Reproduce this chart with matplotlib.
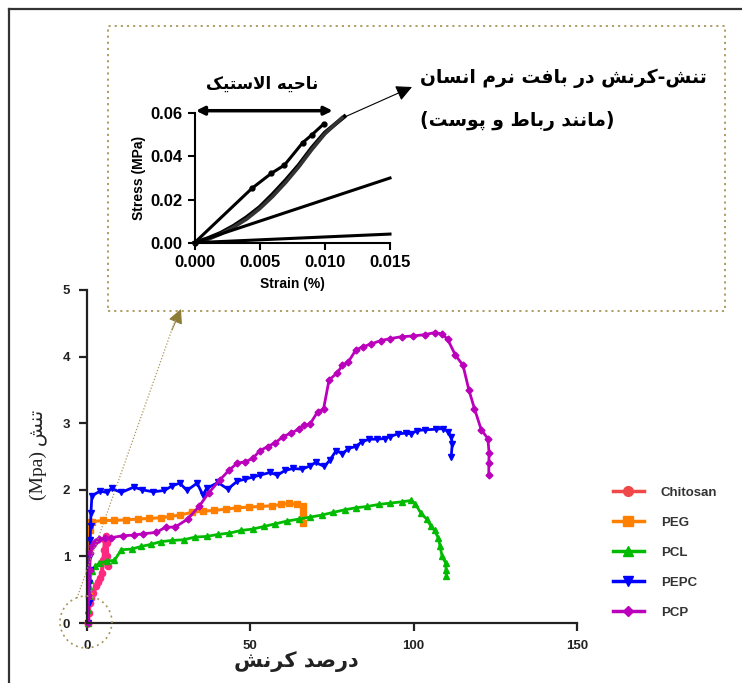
import matplotlib
matplotlib.use("Agg")
import matplotlib.pyplot as plt
from matplotlib.lines import Line2D
from matplotlib.patches import Rectangle, Ellipse, FancyArrowPatch

plt.rcParams["font.family"] = ["Liberation Sans", "DejaVu Sans"]

# =========================
# data
# =========================
chit_x = [0.3, 0.5, 0.8, 1.2, 1.9, 2.7, 3.5, 4.0, 4.5, 5.0, 5.3, 5.5, 5.8, 6.0, 6.2, 6.4]
chit_y = [0.0, 0.15, 0.3, 0.38, 0.45, 0.55, 0.62, 0.68, 0.75, 0.95, 1.1, 1.25, 1.3, 1.2, 1.0, 0.85]

peg_x = [0.3, 0.5, 0.6, 0.7, 0.8, 1.0, 1.5, 5.0, 8.4, 12.0, 15.5, 19.0, 22.5, 25.5, 28.4,
         32.0, 35.5, 39.0, 42.5, 46.0, 49.6, 53.0, 56.6, 59.5, 61.8, 64.2, 66.0, 66.2, 66.2]
peg_y = [0.0, 0.4, 0.8, 1.1, 1.4, 1.52, 1.52, 1.54, 1.54, 1.55, 1.56, 1.57, 1.58, 1.6, 1.62,
         1.66, 1.68, 1.69, 1.71, 1.73, 1.74, 1.75, 1.76, 1.78, 1.8, 1.78, 1.75, 1.65, 1.5]

pcl_x = [0.3, 0.4, 0.5, 0.7, 0.9, 1.4, 2.5, 3.8, 6.1, 8.4, 10.5, 13.7, 16.6, 19.5, 22.5, 26.0,
         29.6, 33.1, 36.6, 40.1, 43.6, 47.2, 50.7, 54.2, 57.7, 61.2, 64.8, 68.3, 71.8, 75.3,
         78.9, 82.3, 85.8, 89.3, 92.8, 96.4, 99.3, 100.5, 102.2, 104.0, 105.2, 106.4, 107.5,
         108.1, 108.7, 109.8, 109.9, 110.0]
pcl_y = [0.0, 0.2, 0.4, 0.55, 0.65, 0.78, 0.85, 0.9, 0.93, 0.94, 1.1, 1.11, 1.15, 1.18, 1.22, 1.24,
         1.25, 1.29, 1.3, 1.33, 1.35, 1.39, 1.41, 1.45, 1.49, 1.53, 1.56, 1.59, 1.62, 1.66,
         1.7, 1.73, 1.75, 1.78, 1.8, 1.82, 1.84, 1.79, 1.65, 1.56, 1.46, 1.39, 1.28,
         1.15, 1.0, 0.9, 0.8, 0.7]

pepc_x = [0.3, 0.5, 0.7, 0.8, 0.9, 1.0, 1.1, 1.2, 1.5, 4.0, 6.1, 7.5, 10.5, 14.3, 16.9, 20.2,
          23.7, 26.1, 28.4, 30.6, 33.7, 35.5, 36.6, 40.1, 43.1, 46.0, 48.4, 50.7, 53.0, 56.0,
          58.3, 60.6, 63.0, 65.9, 68.3, 70.0, 72.7, 74.4, 76.3, 78.2, 80.0, 82.3, 84.1, 86.4,
          88.8, 91.1, 92.8, 95.2, 97.5, 99.3, 101.0, 103.4, 106.9, 109.1, 110.6, 111.5, 111.8, 111.5]
pepc_y = [0.0, 0.3, 0.6, 0.8, 1.0, 1.25, 1.45, 1.65, 1.91, 1.98, 1.96, 2.02, 1.96, 2.04, 2.0, 1.97,
          1.99, 2.06, 2.1, 1.99, 2.1, 1.92, 2.02, 2.11, 2.01, 2.13, 2.16, 2.19, 2.22, 2.26,
          2.22, 2.29, 2.32, 2.31, 2.36, 2.41, 2.35, 2.45, 2.59, 2.54, 2.62, 2.65, 2.72, 2.76,
          2.76, 2.77, 2.8, 2.84, 2.85, 2.84, 2.89, 2.9, 2.91, 2.92, 2.87, 2.8, 2.69, 2.5]

pcp_x = [0.2, 0.5, 0.8, 1.0, 1.5, 2.5, 3.8, 5.5, 7.3, 10.9, 14.3, 17.2, 21.2, 24.1, 27.0, 30.8,
         34.3, 37.2, 40.7, 43.6, 46.0, 48.4, 50.7, 53.0, 55.4, 57.7, 60.1, 62.4, 64.8, 66.5,
         68.3, 70.6, 72.4, 74.1, 76.5, 78.2, 80.0, 82.3, 84.6, 87.0, 89.9, 92.8, 96.4, 99.9,
         103.4, 106.4, 108.7, 110.4, 112.8, 115.1, 116.9, 118.6, 120.7, 122.7, 123.1, 123.0, 123.0]
pcp_y = [0.0, 0.4, 0.8, 1.05, 1.15, 1.22, 1.26, 1.27, 1.28, 1.31, 1.32, 1.34, 1.36, 1.44, 1.44, 1.56,
         1.75, 1.95, 2.15, 2.3, 2.4, 2.42, 2.47, 2.59, 2.65, 2.71, 2.8, 2.85, 2.91, 2.97,
         2.99, 3.17, 3.21, 3.65, 3.75, 3.87, 3.92, 4.1, 4.15, 4.19, 4.24, 4.27, 4.3, 4.31,
         4.33, 4.36, 4.34, 4.26, 4.02, 3.87, 3.5, 3.22, 2.9, 2.77, 2.55, 2.4, 2.22]

names = ["Chitosan", "PEG", "PCL", "PEPC", "PCP"]

# inset: soft tissue curves
tis1_x = [0, 0.0044, 0.0059, 0.0069, 0.0083, 0.0090, 0.0099]
tis1_y = [0, 0.0252, 0.0322, 0.0360, 0.0464, 0.0500, 0.0550]
tis2_x = [0, 0.001, 0.002, 0.003, 0.004, 0.005, 0.006, 0.007, 0.008, 0.009, 0.010, 0.0115]
tis2_y = [0, 0.002, 0.0045, 0.0078, 0.0118, 0.0165, 0.0225, 0.029, 0.036, 0.044, 0.051, 0.0585]
tis3_x = [0, 0.001, 0.002, 0.003, 0.004, 0.005, 0.006, 0.007, 0.008, 0.009, 0.010, 0.0113]
tis3_y = [0, 0.0015, 0.004, 0.0072, 0.011, 0.0158, 0.0215, 0.028, 0.0352, 0.0432, 0.0505, 0.0578]
tis4_x = [0, 0.015]
tis4_y = [0, 0.030]
tis5_x = [0, 0.015]
tis5_y = [0, 0.004]

# =========================
# Persian text: simple shaping + right-to-left order
# =========================
AR = {
    "ا": ("\ufe8d", "\ufe8e", None, None),
    "ب": ("\ufe8f", "\ufe90", "\ufe91", "\ufe92"),
    "پ": ("\ufb56", "\ufb57", "\ufb58", "\ufb59"),
    "ت": ("\ufe95", "\ufe96", "\ufe97", "\ufe98"),
    "ح": ("\ufea1", "\ufea2", "\ufea3", "\ufea4"),
    "د": ("\ufea9", "\ufeaa", None, None),
    "ر": ("\ufead", "\ufeae", None, None),
    "س": ("\ufeb1", "\ufeb2", "\ufeb3", "\ufeb4"),
    "ش": ("\ufeb5", "\ufeb6", "\ufeb7", "\ufeb8"),
    "ص": ("\ufeb9", "\ufeba", "\ufebb", "\ufebc"),
    "ط": ("\ufec1", "\ufec2", "\ufec3", "\ufec4"),
    "ف": ("\ufed1", "\ufed2", "\ufed3", "\ufed4"),
    "ک": ("\ufb8e", "\ufb8f", "\ufb90", "\ufb91"),
    "ل": ("\ufedd", "\ufede", "\ufedf", "\ufee0"),
    "م": ("\ufee1", "\ufee2", "\ufee3", "\ufee4"),
    "ن": ("\ufee5", "\ufee6", "\ufee7", "\ufee8"),
    "ه": ("\ufee9", "\ufeea", "\ufeeb", "\ufeec"),
    "و": ("\ufeed", "\ufeee", None, None),
    "ی": ("\ufbfc", "\ufbfd", "\ufbfe", "\ufbff"),
}


def fa(s):
    def dual(c):
        return c in AR and AR[c][2] is not None
    out = []
    i = 0
    while i < len(s):
        c = s[i]
        if c not in AR:
            out.append(c)
            i += 1
            continue
        prev = s[i - 1] if i > 0 else ""
        jp = dual(prev)
        if c == "ل" and i + 1 < len(s) and s[i + 1] == "ا":
            out.append("\ufefc" if jp else "\ufefb")
            i += 2
            continue
        nxt = s[i + 1] if i + 1 < len(s) else ""
        jn = dual(c) and nxt in AR
        iso, fin, ini, med = AR[c]
        if jp and jn:
            out.append(med)
        elif jp:
            out.append(fin)
        elif jn:
            out.append(ini)
        else:
            out.append(iso)
        i += 1
    vis = "".join(out)[::-1]
    return vis.translate(str.maketrans("()", ")("))


# =========================
# figure
# =========================
W, H = 742, 683
fig = plt.figure(figsize=(W / 100, H / 100), dpi=100)


def fx(px):
    return px / W


def fy(py):
    return 1 - py / H


OLIVE = "#a8975a"
FA_FONT = ["DejaVu Sans"]

# outer frame (top + left)
fig.add_artist(Line2D([fx(9), fx(9)], [0, fy(9)], transform=fig.transFigure, color="#333333", lw=1.6))
fig.add_artist(Line2D([fx(9), 1], [fy(9), fy(9)], transform=fig.transFigure, color="#333333", lw=1.6))

# =========================
# main axes
# =========================
ax = fig.add_axes([fx(87), fy(623), fx(577) - fx(87), fy(290) - fy(623)])
ax.set_xlim(0, 150)
ax.set_ylim(0, 5)

series = [
    (chit_x, chit_y, "#ff2a7f", "o", 4.5, 3.0),
    (peg_x, peg_y, "#ff8000", "s", 5, 2.2),
    (pcl_x, pcl_y, "#00bb00", "^", 5, 2.0),
    (pepc_x, pepc_y, "#0000ff", "v", 5, 2.0),
    (pcp_x, pcp_y, "#bb00bb", "D", 3.5, 2.0),
]
for (xs, ys, col, mk, ms, lw), nm in zip(series, names):
    ax.plot(xs, ys, color=col, marker=mk, ms=ms, lw=lw, clip_on=False, label=nm)

for s in ["top", "right"]:
    ax.spines[s].set_visible(False)
for s in ["left", "bottom"]:
    ax.spines[s].set_linewidth(1.6)
    ax.spines[s].set_color("#222222")
ax.set_xticks([0, 50, 100, 150])
ax.set_yticks([0, 1, 2, 3, 4, 5])
ax.tick_params(direction="out", length=6, width=1.6, labelsize=9.5, pad=6, colors="#222222")
for lab in ax.get_xticklabels() + ax.get_yticklabels():
    lab.set_fontweight("bold")

fig.text(fx(296), fy(662), fa("درصد کرنش"), ha="center", va="center",
         fontsize=15, fontweight="bold", family=FA_FONT, color="#222222")
fig.text(fx(38), fy(455), "(Mpa) " + fa("تنش"), ha="center", va="center", rotation=90,
         fontsize=14, family=["Liberation Serif", "DejaVu Sans"], color="#222222")

# legend
leg_cols = ["#f04848", "#ff8000", "#00bb00", "#0000ff", "#bb00bb"]
leg_marks = ["o", "s", "^", "v", "D"]
handles = [Line2D([], [], color=c, marker=m, ms=7 if m != "D" else 5.5, lw=2.5)
           for c, m in zip(leg_cols, leg_marks)]
leg = fig.legend(handles, names, loc="upper left", bbox_to_anchor=(fx(608), fy(481)),
                 frameon=False, fontsize=9.5, labelspacing=1.35, handlelength=2.3,
                 handletextpad=1.3, borderaxespad=0)
for t in leg.get_texts():
    t.set_fontweight("bold")
    t.set_color("#333333")

# =========================
# inset axes
# =========================
axin = fig.add_axes([fx(194.6), fy(242.7), fx(390) - fx(194.6), fy(113.3) - fy(242.7)])
axin.set_xlim(0, 0.015)
axin.set_ylim(0, 0.06)
axin.plot(tis1_x, tis1_y, color="black", lw=2.2, marker="o", ms=3.5, clip_on=False)
axin.plot(tis2_x, tis2_y, color="black", lw=3.0, clip_on=False)
axin.plot(tis3_x, tis3_y, color="#333333", lw=2.6, clip_on=False)
axin.plot(tis4_x, tis4_y, color="black", lw=2.2, clip_on=False)
axin.plot(tis5_x, tis5_y, color="black", lw=2.2, clip_on=False)
for s in ["top", "right"]:
    axin.spines[s].set_visible(False)
for s in ["left", "bottom"]:
    axin.spines[s].set_linewidth(1.5)
axin.set_xticks([0, 0.005, 0.010, 0.015])
axin.set_yticks([0, 0.02, 0.04, 0.06])
axin.set_xticklabels(["0.000", "0.005", "0.010", "0.015"])
axin.set_yticklabels(["0.00", "0.02", "0.04", "0.06"])
axin.tick_params(direction="out", length=5, width=1.5, labelsize=12, pad=4)
for lab in axin.get_xticklabels() + axin.get_yticklabels():
    lab.set_fontweight("bold")
axin.set_xlabel("Strain (%)", fontsize=10, fontweight="bold", labelpad=5)
axin.set_ylabel("Stress (MPa)", fontsize=10, fontweight="bold", labelpad=3)

# elastic region double arrow + label
axin.annotate("", xy=(0.0106, 0.0612), xytext=(0.0001, 0.0612),
              arrowprops=dict(arrowstyle="<|-|>", color="black", lw=2.5,
                              mutation_scale=12, shrinkA=0, shrinkB=0),
              annotation_clip=False)
fig.text(fx(262), fy(84), fa("ناحیه الاستیک"), ha="center", va="center",
         fontsize=12, fontweight="bold", family=FA_FONT)

# arrow to soft tissue note
axin.annotate("", xy=(fx(412), fy(87)), xycoords="figure fraction",
              xytext=(0.0116, 0.0585), textcoords="data",
              arrowprops=dict(arrowstyle="-|>", color="black", lw=0.8,
                              mutation_scale=24, shrinkA=0, shrinkB=0))
fig.text(fx(420), fy(78), fa("تنش-کرنش در بافت نرم انسان"), ha="left", va="center",
         fontsize=13.5, fontweight="bold", family=FA_FONT)
fig.text(fx(420), fy(121), fa("(مانند رباط و پوست)"), ha="left", va="center",
         fontsize=13.5, fontweight="bold", family=FA_FONT)

# =========================
# dotted callout box, circle, and olive arrow
# =========================
fig.add_artist(Rectangle((fx(108), fy(311)), fx(725) - fx(108), fy(26) - fy(311),
                         transform=fig.transFigure, fill=False, ec=OLIVE, lw=1.3,
                         ls=(0, (1.2, 2.2))))
fig.add_artist(Ellipse((fx(86), fy(622)), 52 / W, 52 / H, transform=fig.transFigure,
                       fill=False, ec=OLIVE, lw=1.2, ls=(0, (1.2, 2.2))))
fig.add_artist(Line2D([fx(77), fx(176)], [fy(598), fy(318)], transform=fig.transFigure,
                      color=OLIVE, lw=0.9, ls=(0, (1, 1.5))))
fig.add_artist(FancyArrowPatch(
    (fx(172), fy(330)), (fx(181), fy(309)), transform=fig.transFigure,
    arrowstyle="-|>", mutation_scale=22, color="#8c7c38", lw=0.8,
    shrinkA=0, shrinkB=0))

fig.savefig("out.png", dpi=100)
